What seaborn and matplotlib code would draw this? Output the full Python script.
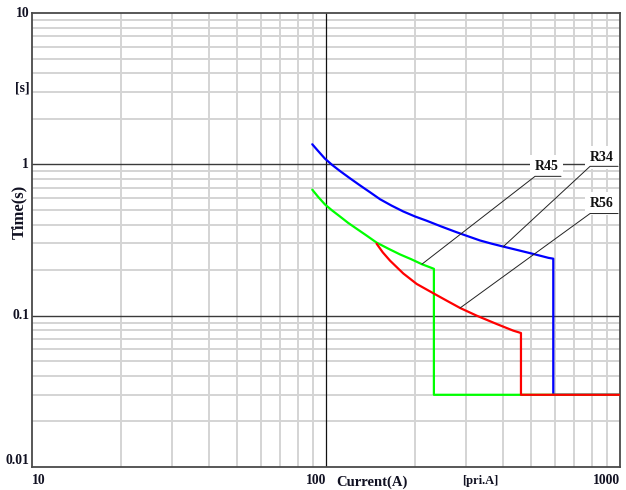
import matplotlib
matplotlib.use("Agg")
import matplotlib.pyplot as plt
import seaborn as sns
from matplotlib.ticker import FixedLocator, NullFormatter

# Relay operating curves: primary current (A) vs trip time (s)
r34_current = [89.8, 93.5, 99.2, 105, 111.6, 120.5, 130.5, 141, 152.7, 167, 183.2, 201, 220,
               247, 278, 305, 334, 366, 401, 446, 494, 535, 571, 593, 593, 1000]
r34_time = [1.357, 1.24, 1.09, 0.99, 0.903, 0.81, 0.726, 0.655, 0.588, 0.534, 0.488, 0.452, 0.424,
            0.388, 0.356, 0.334, 0.314, 0.299, 0.286, 0.272, 0.259, 0.249, 0.241, 0.238, 0.030, 0.030]

r45_current = [89.8, 94, 99.2, 105, 111.6, 119, 127.2, 137.5, 148.6, 163, 178.5, 195, 211.7, 232.8, 232.8, 1000]
r45_time = [0.680, 0.61, 0.543, 0.495, 0.452, 0.41, 0.375, 0.338, 0.304, 0.277, 0.254, 0.236, 0.219, 0.204, 0.030, 0.030]

r56_current = [148.6, 156, 165.1, 183.2, 203.5, 231.8, 257.3, 285.6, 325.5, 380.6, 433.6, 460.4, 460.4, 1000]
r56_time = [0.299, 0.262, 0.231, 0.190, 0.162, 0.1406, 0.1257, 0.1125, 0.100, 0.0881, 0.0796, 0.0768, 0.030, 0.030]

x_ticks = [10, 100, 1000]
x_tick_labels = ["10", "100", "1000"]
y_ticks = [0.01, 0.1, 1, 10]
y_tick_labels = ["0.01", "0.1", "1", "10"]

sns.set_style("white")
plt.rcParams["font.family"] = ["Liberation Serif", "DejaVu Serif"]
plt.rcParams["font.weight"] = "bold"

fig = plt.figure(figsize=(6.26, 4.90), dpi=100)
ax = fig.add_axes([32 / 626, 1 - 467 / 490, 588 / 626, 454 / 490])
ax.set_xscale("log")
ax.set_yscale("log")
ax.set_xlim(10, 1000)
ax.set_ylim(0.01, 10)

# grid: light minor lines, dark decade lines
minor = [m * 10 ** e for e in range(-2, 3) for m in range(2, 10)]
ax.xaxis.set_minor_locator(FixedLocator([v for v in minor if 10 < v < 1000]))
ax.yaxis.set_minor_locator(FixedLocator([v for v in minor if 0.01 < v < 10]))
ax.xaxis.set_minor_formatter(NullFormatter())
ax.yaxis.set_minor_formatter(NullFormatter())
ax.grid(which="minor", color="#d4d4d4", lw=1.4)
for yv in [0.1, 1]:
    ax.axhline(yv, color="#3a3a3a", lw=1.0, zorder=1)
ax.axvline(100, color="#111111", lw=0.9, zorder=1)

for xs, ys, col in [(r34_current, r34_time, "#0000ff"),
                    (r45_current, r45_time, "#00ff00"),
                    (r56_current, r56_time, "#ff0000")]:
    sns.lineplot(x=xs, y=ys, sort=False, estimator=None, color=col, lw=1.6, ax=ax, zorder=3)

# ticks and labels
ax.set_xticks(x_ticks)
ax.set_xticklabels(x_tick_labels)
ax.set_yticks(y_ticks)
ax.set_yticklabels(y_tick_labels)
ax.tick_params(which="both", direction="in", length=3, width=1, color="#444444",
               labelsize=9.8, labelcolor="#111122", pad=2)
ax.tick_params(axis="x", which="both", pad=5)
for lbl, ha in zip(ax.get_xticklabels(), ["left", "right", "right"]):
    lbl.set_ha(ha)
    lbl.set_fontweight("bold")
for lbl, va in zip(ax.get_yticklabels(), ["bottom", "center", "center", "center"]):
    lbl.set_va(va)
    lbl.set_fontweight("bold")

for side in ["left", "bottom", "right", "top"]:
    ax.spines[side].set_visible(True)
    ax.spines[side].set_color("#4a4a4a")
    ax.spines[side].set_linewidth(1.3)

ax.set_xlabel("Current(A)", fontsize=10.5, fontweight="bold", color="#111122")
ax.xaxis.set_label_coords(0.578, -0.033)
ax.xaxis.label.set_va("center")
ax.set_ylabel("Time(s)", fontsize=12, fontweight="bold", color="#111122")
ax.yaxis.set_label_coords(-0.022, 0.562)
ax.yaxis.label.set_va("center")

ax.annotate("[s]", xy=(10, 3.2), xytext=(-2, 0), textcoords="offset points",
            ha="right", va="center", fontsize=10, fontweight="bold", color="#111122",
            annotation_clip=False)
ax.annotate("[pri.A]", xy=(334, 0.01), xytext=(0, -10), textcoords="offset points",
            ha="center", va="center", fontsize=9, fontweight="bold", color="#111122",
            annotation_clip=False)

# curve tags with leader lines
tags = [("R45", (212, 0.219), (514, 0.833), (630, 0.833), (563, 0.965)),
        ("R34", (401, 0.286), (791, 0.97), (985, 0.97), (869, 1.11)),
        ("R56", (286, 0.1125), (791, 0.473), (985, 0.473), (869, 0.552))]
for name, pt, start, end, txt in tags:
    ax.text(txt[0], txt[1], name, ha="center", va="center", fontsize=10,
            fontweight="bold", color="#111111", zorder=4,
            bbox=dict(facecolor="white", edgecolor="none", pad=3.5))
    ax.plot([pt[0], start[0], end[0]], [pt[1], start[1], end[1]],
            color="#222222", lw=0.7, zorder=5)

fig.savefig("out.png", dpi=100)
